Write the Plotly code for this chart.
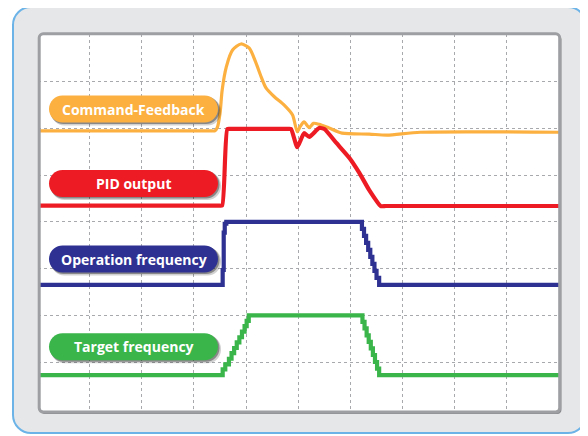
import plotly.graph_objects as go

# ---------------- data (x: time divisions, y: grid divisions) ----------------
cf_x = [0, 3.30, 3.40, 3.45, 3.50, 3.54, 3.62, 3.74, 3.90, 4.06, 4.19, 4.29, 4.38,
        4.54, 4.73, 4.89, 4.98, 5.04, 5.11, 5.21, 5.29, 5.40, 5.59, 5.84, 6.36,
        6.70, 7.34, 10]
cf_y = [5.95, 5.95, 5.95, 6.03, 6.33, 6.82, 7.32, 7.68, 7.81, 7.72, 7.40, 7.10, 6.87,
        6.68, 6.50, 6.29, 5.93, 6.05, 6.14, 6.02, 6.11, 6.09, 6.01, 5.90, 5.88,
        5.86, 5.92, 5.92]

pid_x = [0, 3.46, 3.54, 3.64, 3.72, 4.78, 4.86, 4.98, 5.11, 5.21, 5.40, 5.50,
         5.73, 5.98, 6.17, 6.36, 6.58, 6.68, 10]
pid_y = [4.35, 4.35, 4.35, 5.99, 5.99, 5.99, 5.99, 5.60, 5.90, 5.82, 6.01, 5.99,
         5.69, 5.37, 5.05, 4.68, 4.34, 4.34, 4.34]

op_x = [0, 3.55, 3.57, 3.59, 3.62, 6.22, 6.26, 6.30, 6.34, 6.38, 6.42, 6.46, 6.50, 6.55, 10]
op_y = [2.65, 2.97, 3.77, 3.96, 4.00, 3.85, 3.70, 3.55, 3.40, 3.25, 3.10, 2.95, 2.80, 2.65, 2.65]

tf_x = [0, 3.55, 3.60, 3.67, 3.72, 3.77, 3.82, 3.87, 3.92, 3.97, 4.01, 4.05,
        6.23, 6.27, 6.31, 6.35, 6.39, 6.43, 6.47, 6.51, 6.55, 10]
tf_y = [0.72, 0.84, 0.95, 1.07, 1.19, 1.30, 1.42, 1.53, 1.65, 1.77, 1.88, 2.00,
        1.86, 1.72, 1.57, 1.43, 1.29, 1.15, 1.00, 0.86, 0.72, 0.72]

labels = ["Command-Feedback", "PID output", "Operation frequency", "Target frequency"]
colors = ["#FBB040", "#ED1C24", "#2E3192", "#39B54A"]
x_grid = [1, 2, 3, 4, 5, 6, 7, 8, 9]
y_grid = [1, 2, 3, 4, 5, 6, 7]

# ---------------- layout geometry ----------------
# the page body adds an 8px margin, so the figure is drawn 8px smaller/offset
OFF = 8
W, H = 588 - OFF, 436 - OFF
ML, MR, MT, MB = 38 - OFF, 28, 34 - OFF, 23
PW, PH = W - ML - MR, H - MT - MB


def px(p):
    return (p - OFF - ML) / PW


def py(p):
    return (H - MB - (p - OFF)) / PH


def rrect(x0, y0, x1, y1, r):
    k = 0.5523 * r

    def P(a, b):
        return f"{px(a):.5f},{py(b):.5f}"

    return (f"M {P(x0 + r, y0)} L {P(x1 - r, y0)} "
            f"C {P(x1 - r + k, y0)} {P(x1, y0 + r - k)} {P(x1, y0 + r)} "
            f"L {P(x1, y1 - r)} "
            f"C {P(x1, y1 - r + k)} {P(x1 - r + k, y1)} {P(x1 - r, y1)} "
            f"L {P(x0 + r, y1)} "
            f"C {P(x0 + r - k, y1)} {P(x0, y1 - r + k)} {P(x0, y1 - r)} "
            f"L {P(x0, y0 + r)} "
            f"C {P(x0, y0 + r - k)} {P(x0 + r - k, y0)} {P(x0 + r, y0)} Z")


fig = go.Figure()
fig.add_trace(go.Scatter(x=cf_x, y=cf_y, mode="lines",
                         line=dict(color=colors[0], width=3.2, shape="spline", smoothing=0.7),
                         hoverinfo="skip"))
fig.add_trace(go.Scatter(x=pid_x, y=pid_y, mode="lines",
                         line=dict(color=colors[1], width=4.2, shape="spline", smoothing=0.5),
                         hoverinfo="skip"))
fig.add_trace(go.Scatter(x=op_x, y=op_y, mode="lines",
                         line=dict(color=colors[2], width=4.2, shape="hv"),
                         hoverinfo="skip"))
fig.add_trace(go.Scatter(x=tf_x, y=tf_y, mode="lines",
                         line=dict(color=colors[3], width=4.2, shape="hv"),
                         hoverinfo="skip"))

shapes = []
# outer panel
shapes.append(dict(type="path", xref="paper", yref="paper", layer="below",
                   path=rrect(13, 7, 586, 433, 18),
                   fillcolor="#E6E7E8", line=dict(color="#6CB4E8", width=2)))
# inner screen shadow + white screen
shapes.append(dict(type="path", xref="paper", yref="paper", layer="below",
                   path=rrect(40.5, 35.5, 561.5, 414, 4),
                   fillcolor="#8A8B8E", line=dict(width=0)))
shapes.append(dict(type="path", xref="paper", yref="paper", layer="below",
                   path=rrect(39.2, 33.8, 559.7, 412, 4),
                   fillcolor="#FFFFFF", line=dict(width=0)))
# inner screen border (on top)
shapes.append(dict(type="path", xref="paper", yref="paper", layer="above",
                   path=rrect(39.2, 33.8, 559.7, 412, 4),
                   fillcolor="rgba(0,0,0,0)", line=dict(color="#9D9FA2", width=3)))

# label pills
pill_cy = [109, 183.5, 259, 346.7]
pill_x0, pill_x1, pill_h = 49, 218, 27
annotations = []
for lab, col, cy in zip(labels, colors, pill_cy):
    y0, y1 = cy - pill_h / 2, cy + pill_h / 2
    shapes.append(dict(type="path", xref="paper", yref="paper", layer="above",
                       path=rrect(pill_x0 + 2, y0 + 2, pill_x1 + 3, y1 + 3, pill_h / 2),
                       fillcolor="rgba(0,0,0,0.18)", line=dict(width=0)))
    shapes.append(dict(type="path", xref="paper", yref="paper", layer="above",
                       path=rrect(pill_x0 + 1, y0 + 1, pill_x1 + 1.5, y1 + 1.5, pill_h / 2),
                       fillcolor="rgba(0,0,0,0.35)", line=dict(width=0)))
    shapes.append(dict(type="path", xref="paper", yref="paper", layer="above",
                       path=rrect(pill_x0, y0, pill_x1, y1, pill_h / 2),
                       fillcolor=col, line=dict(width=0)))
    annotations.append(dict(xref="paper", yref="paper", x=px((pill_x0 + pill_x1) / 2),
                            y=py(cy), text=lab, showarrow=False,
                            xanchor="center", yanchor="middle",
                            font=dict(family="Open Sans", size=14, color="white", weight=700)))

# axis ranges so that gridlines fall where they do in the reference
x_range = [(38 - 37.5) / 52.16, (560 - 37.5) / 52.16]
y_range = [(408.7 - 413) / 46.7, (408.7 - 34) / 46.7]

fig.update_layout(
    width=W, height=H,
    margin=dict(l=ML, r=MR, t=MT, b=MB),
    paper_bgcolor="white", plot_bgcolor="rgba(0,0,0,0)",
    showlegend=False,
    shapes=shapes, annotations=annotations,
    xaxis=dict(range=x_range, tickvals=x_grid, showticklabels=False, ticks="",
               showgrid=True, gridcolor="#A7A9AC", griddash="dot", gridwidth=1,
               zeroline=False, showline=False, fixedrange=True),
    yaxis=dict(range=y_range, tickvals=y_grid, showticklabels=False, ticks="",
               showgrid=True, gridcolor="#A7A9AC", griddash="dot", gridwidth=1,
               zeroline=False, showline=False, fixedrange=True),
)

fig.write_html("out.html", config={"displayModeBar": False})
